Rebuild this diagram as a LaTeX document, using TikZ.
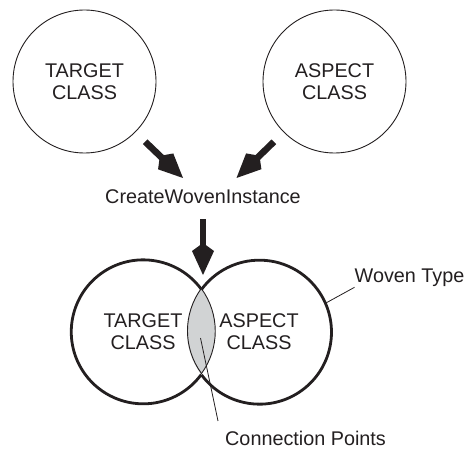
\documentclass[tikz,border=0pt]{standalone}
\usepackage{fontspec}
\setmainfont{Liberation Sans}
\usetikzlibrary{arrows.meta}
\definecolor{lensgray}{RGB}{209,211,212}
\definecolor{ink}{RGB}{35,31,32}
\begin{document}
\begin{tikzpicture}[x=1pt,y=1pt,
  every node/.style={font=\fontsize{19.8}{21.5}\selectfont, text=ink},
  classcircle/.style={circle, draw=ink, line width=0.9pt, minimum size=143pt,
    inner sep=0pt, outer sep=0pt, align=center},
  mergedcircle/.style={circle, minimum size=144pt, inner sep=0pt,
    outer sep=0pt, align=center},
  heavyline/.style={draw=ink, line width=2.8pt},
  lightline/.style={draw=ink, line width=0.9pt},
  leader/.style={draw=ink, line width=0.8pt},
  bigarrow/.style={draw=ink, fill=ink, line width=6.6pt,
    -{Kite[length=32pt, width=22pt, inset=8pt]}},
  label/.style={inner sep=0pt, anchor=base west}]
  \useasboundingbox (0,0) rectangle (466,-449);

  % the two separate classes
  \node[classcircle] (tc) at (84.5,-81.5) {TARGET\\CLASS};
  \node[classcircle] (ac) at (334.5,-81.5) {ASPECT\\CLASS};

  % weaving call
  \node[inner sep=0pt, anchor=base] (cwi) at (203,-204) {CreateWovenInstance};
  \coordinate (inL) at (183,-178);
  \coordinate (inR) at (236.5,-178);
  \coordinate (dnTip) at (203,-275);
  \draw[bigarrow, shorten <=14pt] (tc.-45) -- (inL);
  \draw[bigarrow, shorten <=14pt] (ac.-135) -- (inR);
  \draw[bigarrow, shorten <=15pt] (cwi.south) -- (dnTip);

  % woven type: two overlapping classes
  \node[mergedcircle] (bt) at (143,-331.5) {TARGET\\CLASS};
  \node[mergedcircle] (ba) at (259,-331.5) {ASPECT\\CLASS};
  \begin{scope}
    \clip (bt.center) circle[radius=72pt];
    \fill[lensgray] (ba.center) circle[radius=72pt];
  \end{scope}
  \draw[heavyline] (bt.36.35) arc[start angle=36.35, end angle=323.65, radius=72pt];
  \draw[lightline] (bt.-36.35) arc[start angle=-36.35, end angle=36.35, radius=72pt];
  \draw[heavyline] (ba.-143.65) arc[start angle=-143.65, end angle=143.65, radius=72pt];
  \draw[lightline] (ba.143.65) arc[start angle=143.65, end angle=216.35, radius=72pt];

  % callouts
  \node[label] (wt) at (354.5,-283) {Woven Type};
  \node[label, inner xsep=7pt, inner ysep=10pt] (cp) at (218,-445.5) {Connection Points};
  \coordinate (lensIn) at (200.5,-338);
  \draw[leader] (ba.23) -- (wt.south west);
  \draw[leader] (lensIn) -- (cp.north west);
\end{tikzpicture}
\end{document}
